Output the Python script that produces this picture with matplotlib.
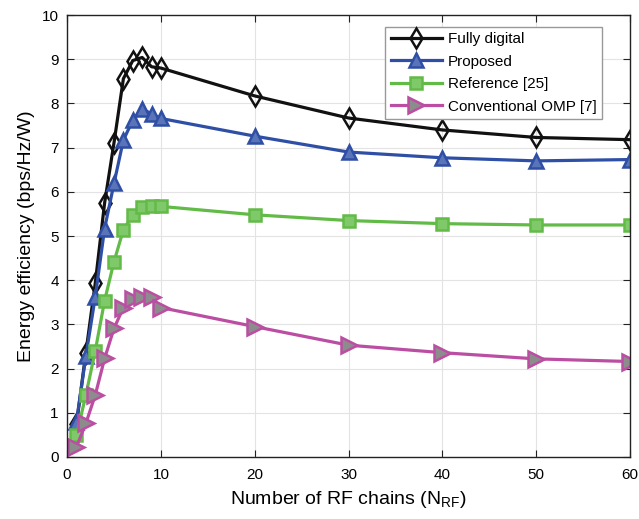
import matplotlib
matplotlib.use('Agg')
import matplotlib.pyplot as plt

plt.rcParams['font.family'] = ['Liberation Sans', 'DejaVu Sans']

# Number of RF chains
n_rf = [1, 2, 3, 4, 5, 6, 7, 8, 9, 10, 20, 30, 40, 50, 60]

# Energy efficiency (bps/Hz/W)
fully_digital = [0.74, 2.36, 3.93, 5.75, 7.11, 8.56, 8.97, 9.04, 8.83, 8.80, 8.17, 7.67, 7.40, 7.23, 7.18]
proposed = [0.80, 2.28, 3.62, 5.17, 6.19, 7.17, 7.62, 7.87, 7.77, 7.66, 7.26, 6.90, 6.77, 6.70, 6.73]
reference = [0.49, 1.40, 2.40, 3.54, 4.42, 5.14, 5.48, 5.65, 5.68, 5.67, 5.48, 5.35, 5.28, 5.25, 5.25]
conv_omp = [0.23, 0.76, 1.40, 2.23, 2.91, 3.38, 3.58, 3.63, 3.63, 3.38, 2.95, 2.53, 2.36, 2.22, 2.16]

fig = plt.figure(figsize=(6.39, 5.19), dpi=100)
ax = fig.add_axes([0.105, 0.1195, 0.881, 0.8515])

ax.plot(n_rf, fully_digital, color='#111111', lw=2.3, marker='d', ms=10,
        mfc='none', mec='#111111', mew=1.8, label='Fully digital')
ax.plot(n_rf, proposed, color='#2f4fa6', lw=2.3, marker='^', ms=10,
        mfc='#5a74b8', mec='#2f4fa6', mew=1.8, label='Proposed')
ax.plot(n_rf, reference, color='#62bb47', lw=2.3, marker='s', ms=8,
        mfc='#7fc96a', mec='#62bb47', mew=1.8, label='Reference [25]')
ax.plot(n_rf, conv_omp, color='#bb4ea3', lw=2.3, marker='>', ms=11,
        mfc='#8c8c8c', mec='#bb4ea3', mew=1.8, label='Conventional OMP [7]')

ax.set_xlim(0, 60)
ax.set_ylim(0, 10)
ax.set_xticks(range(0, 61, 10))
ax.set_yticks(range(0, 11))
ax.grid(True, color='#e3e3e3', lw=0.8)
ax.set_axisbelow(True)
ax.tick_params(direction='in', top=True, right=True, labelsize=11, length=5,
               color='#222222')
ax.tick_params(axis='x', pad=8)
ax.tick_params(axis='y', pad=6)
for s in ax.spines.values():
    s.set_color('#222222')
    s.set_linewidth(1.0)

ax.set_xlabel(r'Number of RF chains ($\mathregular{N_{RF}}$)', fontsize=14, labelpad=5)
ax.set_ylabel('Energy efficiency (bps/Hz/W)', fontsize=14, labelpad=5)

leg = ax.legend(loc='upper right', bbox_to_anchor=(0.950, 0.973), fontsize=11,
                fancybox=False, framealpha=1, edgecolor='#999999',
                handlelength=3.4, borderpad=0.35, labelspacing=0.55,
                handletextpad=0.35, borderaxespad=0)

fig.savefig('out.png', dpi=100)
